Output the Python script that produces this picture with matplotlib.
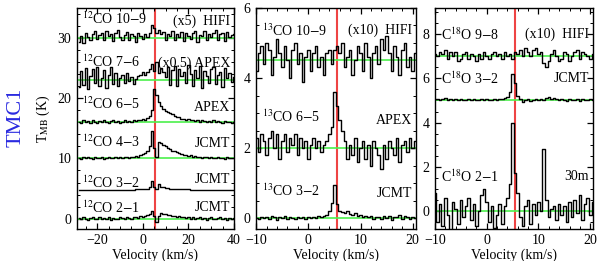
import matplotlib.pyplot as plt
import numpy as np
from matplotlib.ticker import MultipleLocator

plt.rcParams['font.family'] = ['Liberation Serif', 'DejaVu Serif']
plt.rcParams['mathtext.fontset'] = 'stix'

# velocity grids (km/s)
v_12co = np.arange(-28, 41, 1.0)
v_iso = np.arange(-10, 20.6, 0.5)
v_sys = 5.4

# 12CO spectra (K, before offset)
co_10_9 = [-0.6, 0.4, -0.8, 0.9, 0.2, -0.3, 0.7, 1.1, -0.2, 0.5,
           0.8, -0.4, 1.2, 0.3, 0.6, -0.5, 0.9, 1.3, 0.2, -0.4,
           0.5, 1.0, -0.3, 0.7, 0.4, -0.6, 0.8, 0.3, -0.2, 0.6,
           0.1, 0.9, 2.2, 1.6, 0.8, 1.4, 0.6, 1.0, -0.3, 0.7,
           0.4, 1.1, -0.4, 0.6, 0.2, 1.0, -0.5, 0.8, 0.3, -0.2,
           0.9, 1.2, -0.6, 0.5, 0.3, 1.1, -0.3, 0.7, 0.2, 0.9,
           1.3, -0.4, 0.6, 0.8, -0.5, 1.0, 0.2, 0.5, 0.7]
co_7_6 = [-1.2, 1.5, -0.8, 2.0, -1.5, 0.6, 1.8, -0.5, 2.2, -1.0,
          0.4, 1.6, -1.3, 0.9, 2.1, -0.6, 1.2, -0.9, 0.3, 0.8,
          -0.4, 1.1, -0.2, 0.5, -0.7, 0.2, 0.6, 0.9, 1.4, 0.8,
          1.3, 1.8, 2.6, 1.5, 3.0, 1.2, 2.0, 1.4, 0.5, 2.2,
          -0.8, 1.6, 2.4, -1.0, 1.9, 0.7, 1.3, -0.4, 2.5, 1.0,
          -0.9, 1.7, 0.4, 2.3, -1.3, 1.5, 0.6, -0.5, 1.9, 2.1,
          -0.6, 0.8, 1.4, -1.1, 2.0, 0.3, 1.2, -0.3, 0.5]
co_6_5 = [0.1, -0.2, 0.3, 0.0, 0.2, -0.1, 0.3, 0.1, -0.2, 0.2,
          0.0, 0.3, 0.1, -0.1, 0.2, 0.3, 0.0, 0.2, -0.1, 0.1,
          0.3, 0.0, 0.2, 0.1, 0.3, 0.2, 0.4, 0.3, 0.5, 0.4,
          0.7, 1.0, 2.0, 5.6, 4.6, 3.4, 2.7, 2.2, 1.9, 1.7,
          1.5, 1.3, 1.0, 0.9, 0.8, 0.6, 0.5, 0.4, 0.5, 0.3,
          0.4, 0.2, 0.3, 0.1, 0.3, 0.2, 0.0, 0.2, 0.1, 0.3,
          0.0, 0.2, 0.1, -0.1, 0.2, 0.0, 0.1, -0.2, 0.1]
co_4_3 = [0.1, -0.1, 0.2, 0.0, 0.2, 0.1, -0.1, 0.2, 0.0, 0.1,
          0.2, -0.1, 0.1, 0.2, 0.0, 0.1, 0.2, 0.0, 0.3, 0.1,
          0.2, 0.3, 0.1, 0.2, 0.3, 0.4, 0.3, 0.5, 0.7, 0.9,
          1.3, 2.0, 4.5, 1.8, 0.3, 2.7, 2.6, 2.2, 2.0, 1.8,
          1.6, 1.3, 1.2, 1.0, 0.9, 0.7, 0.6, 0.5, 0.4, 0.5,
          0.3, 0.4, 0.2, 0.3, 0.1, 0.2, 0.3, 0.1, 0.2, 0.0,
          0.1, 0.2, 0.0, 0.1, -0.1, 0.2, 0.1, 0.0, 0.1]
co_3_2 = [0.0, 0.0, 0.0, 0.0, 0.0, 0.0, 0.0, 0.0, 0.0, 0.0,
          0.0, 0.0, 0.0, 0.0, 0.0, 0.0, 0.0, 0.0, 0.0, 0.0,
          0.0, 0.0, 0.0, 0.0, 0.0, 0.05, 0.05, 0.1, 0.1, 0.15,
          0.2, 0.4, 1.4, 0.5, 0.2, 0.9, 0.5, 0.4, 0.3, 0.25,
          0.2, 0.2, 0.15, 0.1, 0.1, 0.1, 0.05, 0.05, 0.05, 0.0,
          0.0, 0.0, 0.0, 0.0, 0.0, 0.0, 0.0, 0.0, 0.0, 0.0,
          0.0, 0.0, 0.0, 0.0, 0.0, 0.0, 0.0, 0.0, 0.0]
co_2_1 = [0.1, -0.1, 0.2, 0.0, -0.2, 0.1, 0.2, -0.1, 0.0, 0.2,
          -0.1, 0.1, 0.0, 0.2, -0.2, 0.1, 0.0, -0.1, 0.2, 0.1,
          0.0, 0.2, 0.1, -0.1, 0.2, 0.3, 0.1, 0.4, 0.3, 0.5,
          0.6, 0.8, 1.3, 0.4, -0.6, 0.5, 0.9, 0.8, 0.7, 0.6,
          0.6, 0.5, 0.4, 0.3, 0.4, 0.2, 0.3, 0.1, 0.2, 0.0,
          0.2, -0.1, 0.1, 0.2, 0.0, 0.1, -0.2, 0.1, 0.2, 0.0,
          -0.1, 0.1, 0.2, 0.0, 0.1, -0.2, 0.1, 0.0, 0.1]

# 13CO spectra
c13_10_9 = [-0.3, 0.2, 0.4, -0.1, 0.5, 0.3, -0.4, 0.1, 0.6, 0.2,
            -0.2, 0.4, 0.0, -0.5, 0.3, 0.5, -0.1, 0.2, -0.6, 0.1,
            0.3, -0.3, 0.2, 0.4, -0.2, 0.1, -0.4, 0.2, 0.3, -0.1,
            0.3, 0.4, 0.2, 0.5, -0.2, 0.1, 0.3, -0.4, 0.0, 0.4,
            0.2, -0.3, 0.5, 0.1, -0.5, 0.2, 0.4, -0.1, 0.6, 0.3,
            0.7, 0.2, -0.3, 0.4, 0.1, -0.4, 0.3, 0.5, -0.2, 0.1,
            -0.3, 0.2]
c13_6_5 = [0.3, -0.1, 0.4, 0.2, -0.2, 0.3, 0.5, 0.0, 0.4, -0.3,
           0.2, 0.4, -0.1, 0.3, 0.1, 0.4, -0.2, 0.3, 0.0, 0.2,
           -0.3, 0.1, 0.3, 0.0, 0.2, -0.1, 0.1, 0.2, 0.4, 0.6,
           1.6, 1.2, 0.8, 0.5, 0.2, -0.3, 0.1, -0.2, 0.3, -0.4,
           0.0, 0.2, -0.3, 0.1, -0.5, 0.2, 0.0, -0.2, -0.6, 0.1,
           -0.3, 0.2, 0.0, -0.2, 0.3, -0.4, 0.1, 0.2, -0.1, 0.3,
           0.0, 0.2]
c13_3_2 = [0.02, -0.03, 0.05, 0.0, 0.04, -0.02, 0.06, 0.03, -0.04, 0.05,
           0.02, 0.07, -0.01, 0.04, 0.02, -0.03, 0.05, 0.01, 0.03, -0.02,
           0.04, 0.0, 0.05, 0.02, 0.06, 0.03, 0.08, 0.1, 0.2, 0.45,
           0.95, 0.4, 0.22, 0.18, 0.15, 0.2, 0.12, 0.1, 0.14, 0.08,
           0.1, 0.05, 0.07, 0.03, 0.06, -0.02, 0.04, 0.05, -0.03, 0.06,
           0.02, 0.08, -0.04, 0.05, 0.03, 0.09, -0.02, 0.06, 0.04, -0.03,
           0.05, 0.02]

# C18O spectra
c18_9_8 = [0.1, 0.0, 0.2, 0.1, 0.3, -0.1, 0.2, 0.0, 0.2, -0.2,
           -0.1, 0.1, 0.2, -0.1, 0.1, 0.0, -0.2, 0.1, -0.1, 0.2,
           0.0, -0.1, 0.1, 0.2, 0.0, 0.1, -0.1, 0.2, 0.0, 0.1,
           -0.1, 0.2, 0.1, 0.3, 0.0, 0.4, 0.2, 0.0, 0.3, 0.4,
           0.1, 0.2, -0.3, -0.5, -0.2, 0.1, 0.3, 0.0, -0.2, -0.1,
           0.2, 0.1, -0.2, 0.0, 0.2, 0.3, -0.1, 0.2, 0.1, 0.0,
           -0.1, 0.1]
c18_3_2 = [0.05, 0.08, 0.0, 0.06, 0.1, 0.03, 0.07, 0.0, 0.05, 0.02,
           0.06, 0.0, 0.04, 0.07, 0.02, 0.05, 0.0, 0.03, 0.06, 0.02,
           0.05, 0.0, 0.04, 0.06, 0.03, 0.08, 0.05, 0.1, 0.15, 0.4,
           1.2, 0.8, 0.2, 0.05, -0.05, 0.0, 0.05, -0.03, 0.02, 0.06,
           0.0, 0.08, 0.04, 0.1, 0.15, 0.08, 0.12, 0.05, 0.0, 0.06,
           0.02, -0.03, 0.05, 0.0, 0.04, 0.07, -0.02, 0.05, 0.0, 0.03,
           0.06, 0.02]
c18_2_1 = [0.8, -0.5, 0.3, -0.7, 0.6, -0.2, -0.9, 0.4, 0.1, -0.6,
           0.5, -0.3, 0.2, 0.6, -0.4, 0.3, -0.7, 0.0, 0.7, 1.0,
           0.4, -0.5, 0.2, -0.8, -0.2, 0.3, -0.6, 0.2, 0.6, 1.2,
           4.0, 1.7, 0.8, -0.3, -0.7, 0.2, 0.5, -0.6, 0.3, -0.2,
           0.4, 0.0, 2.8, 0.5, -0.3, 0.1, 0.2, -0.4, 0.3, -0.2,
           0.2, -0.5, 0.4, -0.3, 0.5, -0.1, 0.7, -0.4, 0.3, 0.6,
           -0.2, 0.4]

# (spectrum, offset, left label, right label, left label y, right label y, show baseline)
panel1 = [
    (co_10_9, 30, r'$^{12}$CO 10$-$9', '(x5)  HIFI', 33.2, 32.8, True),
    (co_7_6, 23, r'$^{12}$CO 7$-$6', '(x0.5) APEX', 26.0, 25.8, True),
    (co_6_5, 16, r'$^{12}$CO 6$-$5', 'APEX', 19.0, 18.5, True),
    (co_4_3, 10, r'$^{12}$CO 4$-$3', 'JCMT', 12.7, 12.4, True),
    (co_3_2, 4.8, r'$^{12}$CO 3$-$2', 'JCMT', 6.0, 6.5, False),
    (co_2_1, 0, r'$^{12}$CO 2$-$1', 'JCMT', 1.8, 1.8, True),
]
panel2 = [
    (c13_10_9, 4.5, r'$^{13}$CO 10$-$9', '(x10)  HIFI', 5.35, 5.35, True),
    (c13_6_5, 2.0, r'$^{13}$CO 6$-$5', 'APEX', 2.9, 2.8, True),
    (c13_3_2, 0.0, r'$^{13}$CO 3$-$2', 'JCMT', 0.8, 0.72, True),
]
panel3 = [
    (c18_9_8, 7.0, r'C$^{18}$O 9$-$8', '(x10)  HIFI', 8.0, 8.0, True),
    (c18_3_2, 5.0, r'C$^{18}$O 3$-$2', 'JCMT', 6.0, 6.0, True),
    (c18_2_1, 0.0, r'C$^{18}$O 2$-$1', '30m', 1.55, 1.55, True),
]

GREEN = '#4cf04c'
RED = '#ee4444'
FS = 10

fig = plt.figure(figsize=(6.0, 2.61), dpi=100)
boxes = [[0.128, 0.123, 0.262, 0.847],
         [0.427, 0.123, 0.266, 0.847],
         [0.725, 0.123, 0.263, 0.847]]
setups = [
    (panel1, v_12co, (-29, 40), (-1.7, 35), 20, 5, 10, 2),
    (panel2, v_iso, (-10, 20.6), (-0.3, 6.0), 10, 2, 2, 0.5),
    (panel3, v_iso, (-10, 20.5), (-0.82, 9.2), 10, 2, 2, 0.5),
]

for box, (lines, v, xl, yl, xmaj, xmin, ymaj, ymin) in zip(boxes, setups):
    ax = fig.add_axes(box)
    ax.axvline(v_sys, color=RED, lw=1.5, zorder=1)
    for spec, off, lab, rlab, ly, ry, base in lines:
        if base:
            ax.axhline(off, color=GREEN, lw=1.2, zorder=2)
        ax.plot(v, np.array(spec) + off, color='black', lw=1.0,
                drawstyle='steps-mid', zorder=3)
        ax.text(0.035, ly, lab, transform=ax.get_yaxis_transform(),
                fontsize=FS, va='center', ha='left')
        ax.text(0.975, ry, rlab, transform=ax.get_yaxis_transform(),
                fontsize=FS, va='center', ha='right')
    ax.set_xlim(*xl)
    ax.set_ylim(*yl)
    ax.xaxis.set_major_locator(MultipleLocator(xmaj))
    ax.xaxis.set_minor_locator(MultipleLocator(xmin))
    ax.yaxis.set_major_locator(MultipleLocator(ymaj))
    ax.yaxis.set_minor_locator(MultipleLocator(ymin))
    ax.tick_params(which='both', direction='in', top=True, right=True,
                   labelsize=FS, pad=4)
    ax.tick_params(which='major', length=4, width=0.9)
    ax.tick_params(which='minor', length=2, width=0.7)
    ax.set_xlabel('Velocity (km/s)', fontsize=FS, labelpad=1)
    for s in ax.spines.values():
        s.set_linewidth(1.0)
    if box is boxes[0]:
        ax.set_ylabel(r'T$_{\rm MB}$ (K)', fontsize=FS, labelpad=4)

fig.text(0.027, 0.55, 'TMC1', color='#2a2ae0', fontsize=16,
         rotation=90, va='center', ha='center')

fig.savefig('out.png', dpi=100)
